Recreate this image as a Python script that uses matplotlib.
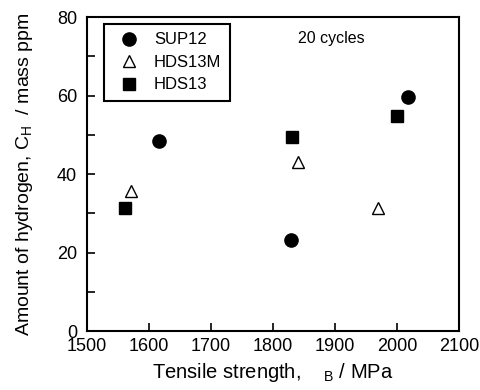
import matplotlib
matplotlib.use("Agg")
import matplotlib.pyplot as plt
from matplotlib.ticker import MultipleLocator

plt.rcParams['font.family'] = ['Liberation Sans', 'DejaVu Sans']
plt.rcParams['mathtext.fontset'] = 'custom'
plt.rcParams['mathtext.rm'] = 'Liberation Sans'

# data
sup12_x = [1617, 1830, 2018]
sup12_y = [48.4, 23.2, 59.6]
hds13m_x = [1571, 1840, 1969]
hds13m_y = [35.8, 43.0, 31.3]
hds13_x = [1561, 1831, 2001]
hds13_y = [31.3, 49.4, 54.8]

fig = plt.figure(figsize=(4.8, 3.9), dpi=100)
ax = fig.add_axes([0.181, 0.151, 0.775, 0.805])

ax.plot(sup12_x, sup12_y, 'o', color='black', ms=9.5, label='SUP12')
ax.plot(hds13m_x, hds13m_y, '^', mfc='white', mec='black', mew=1.0, ms=8.5, label='HDS13M')
ax.plot(hds13_x, hds13_y, 's', color='black', ms=8.5, label='HDS13')

ax.set_xlim(1500, 2100)
ax.set_ylim(0, 80)
ax.xaxis.set_major_locator(MultipleLocator(100))
ax.yaxis.set_major_locator(MultipleLocator(20))
ax.yaxis.set_minor_locator(MultipleLocator(10))
ax.tick_params(which='both', direction='in', top=False, right=False, labelsize=13)
ax.tick_params(which='major', length=6, width=1.2)
ax.tick_params(which='minor', length=6, width=1.2)
ax.tick_params(axis='x', pad=5)
ax.tick_params(axis='y', pad=7)
for s in ax.spines.values():
    s.set_linewidth(1.5)

ax.set_xlabel('Tensile strength,    $_\\mathregular{B}$ / MPa', fontsize=14.5, labelpad=4)
ax.set_ylabel('Amount of hydrogen, C$_\\mathregular{H}$  / mass ppm', fontsize=14, labelpad=16)

ax.text(1840, 73.4, '20 cycles', fontsize=11.5)

leg = ax.legend(loc='upper left', bbox_to_anchor=(0.046, 0.978), fontsize=12,
                fancybox=False, edgecolor='black', framealpha=1,
                handletextpad=0.5, borderpad=0.5, labelspacing=0.45, handlelength=2,
                borderaxespad=0)
leg.get_frame().set_linewidth(1.5)

fig.savefig('out.png', dpi=100)
